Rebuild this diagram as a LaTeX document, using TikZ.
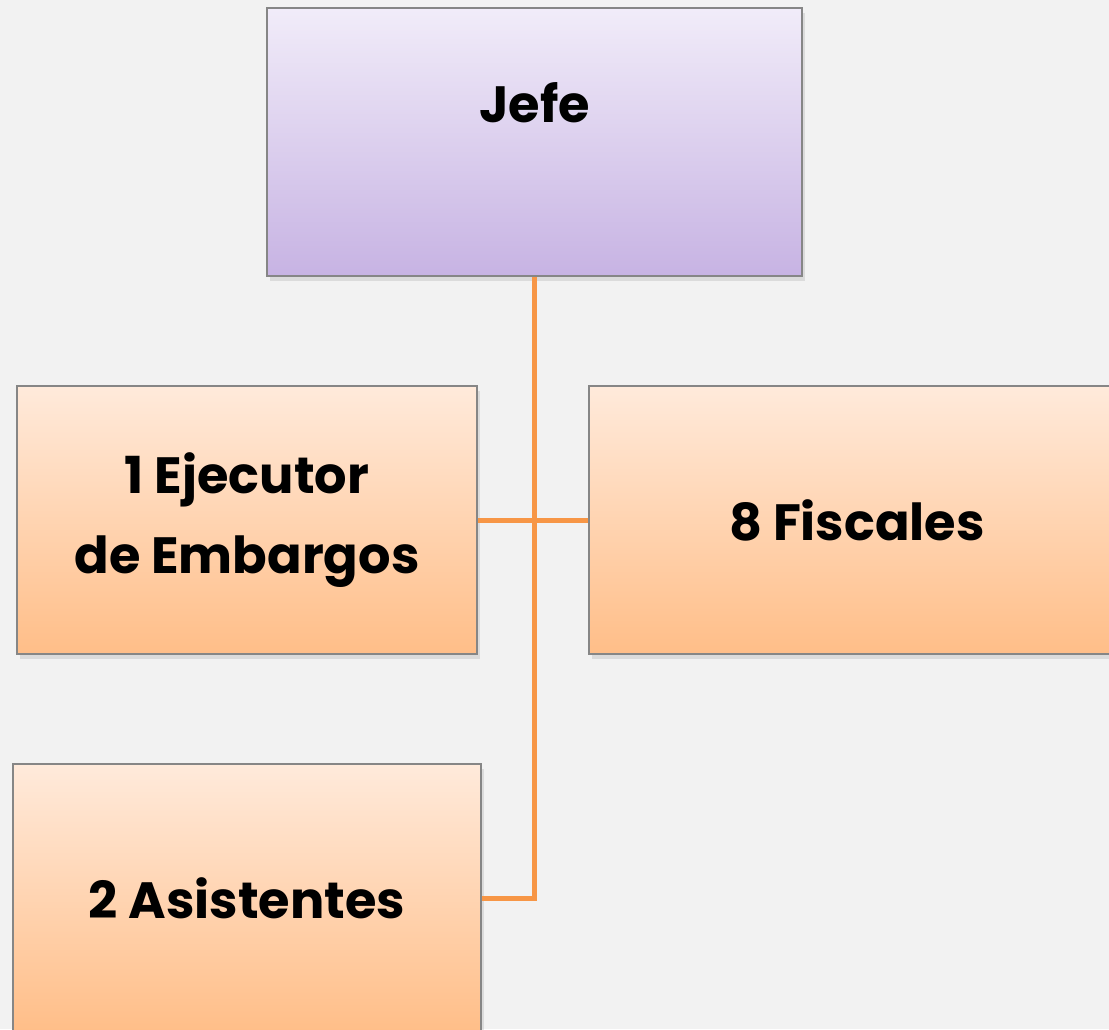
\documentclass[tikz,border=0pt]{standalone}
\usepackage{fontspec}
\setmainfont{Poppins}
\usetikzlibrary{shadows}

\definecolor{fondo}{HTML}{F2F2F2}
\definecolor{borde}{HTML}{868686}
\definecolor{lilaA}{HTML}{F1ECF9}
\definecolor{lilaB}{HTML}{C7B3E3}
\definecolor{naranjaA}{HTML}{FFEADB}
\definecolor{naranjaB}{HTML}{FFBE88}
\definecolor{naranja}{HTML}{F79646}

\begin{document}
\begin{tikzpicture}[x=0.5pt,y=-0.5pt,
    box/.style={draw=borde,line width=1pt,inner sep=0pt,align=center,
        font=\fontsize{25.5}{40}\selectfont\bfseries,
        drop shadow={opacity=0.2,shadow xshift=1.5pt,shadow yshift=-2.5pt}},
    jefebox/.style={box,top color=lilaA,bottom color=lilaB,
        minimum width=267.5pt,minimum height=134pt},
    cargo/.style={box,top color=naranjaA,bottom color=naranjaB,
        minimum width=230pt,minimum height=134pt},
    linea/.style={draw=naranja,line width=2.5pt}]
    \useasboundingbox (0,0) rectangle (1109,1029);
    \clip (0,0) rectangle (1109,1029);
    \fill[fondo] (0,0) rectangle (1109,1029);

    \node[jefebox,text height=57pt,text depth=77pt] (jefe) at (534.5,142) {Jefe};
    \node[cargo] (ejecutor) at (247,520) {1 Ejecutor\\de Embargos};
    \node[cargo,minimum width=268pt] (fiscales) at (857,520) {8 Fiscales};
    \node[cargo,minimum width=234pt] (asistentes) at (247,898) {2 Asistentes};

    \draw[linea] (jefe.south) |- (asistentes.east);
    \draw[linea] (ejecutor.east) -- (fiscales.west);
\end{tikzpicture}
\end{document}
